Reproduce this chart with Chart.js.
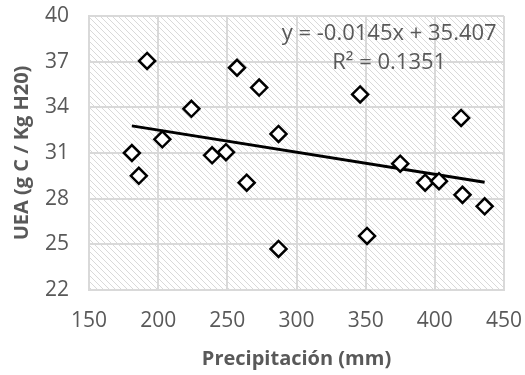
<!DOCTYPE html>
<html>
<head>
<meta charset="utf-8">
<script src="https://cdn.jsdelivr.net/npm/chart.js@4"></script>
<style>
  html, body { margin: 0; padding: 0; background: #fff; }
  #wrap { width: 525px; height: 375px; }
</style>
</head>
<body>
<div id="wrap"><canvas id="chart" width="525" height="375"></canvas></div>
<script>
  // precipitation (mm) vs UEA
  const precip = [181, 186, 192, 203, 224, 239, 249, 257, 264, 273, 287, 287, 346, 351, 375, 393, 403, 419, 420, 436];
  const uea = [31.0, 29.5, 37.05, 31.9, 33.9, 30.85, 31.05, 36.6, 29.05, 35.3, 32.25, 24.7, 34.85, 25.55, 30.3, 29.05, 29.15, 33.3, 28.25, 27.5];
  const trendX = [181, 436];
  const slope = -0.0145, intercept = 35.407;
  const xTicks = [150, 200, 250, 300, 350, 400, 450];
  const yTicks = [22, 25, 28, 31, 34, 37, 40];

  const grey = '#595959';
  const gridColor = '#d9d9d9';

  // hatched plot background
  function makeHatch() {
    const c = document.createElement('canvas');
    c.width = 6; c.height = 6;
    const g = c.getContext('2d');
    g.fillStyle = '#fff';
    g.fillRect(0, 0, 6, 6);
    g.strokeStyle = '#d9d9d9';
    g.lineWidth = 1;
    g.beginPath();
    g.moveTo(-1, -1); g.lineTo(7, 7);
    g.moveTo(-1, 5); g.lineTo(1, 7);
    g.moveTo(5, -1); g.lineTo(7, 1);
    g.stroke();
    return g.createPattern(c, 'repeat');
  }

  const hatchBg = {
    id: 'hatchBg',
    beforeDraw(chart) {
      const { ctx, chartArea: a } = chart;
      ctx.save();
      ctx.fillStyle = makeHatch();
      ctx.fillRect(a.left, a.top, a.right - a.left, a.bottom - a.top);
      ctx.restore();
    }
  };

  const equation = {
    id: 'equation',
    afterDraw(chart) {
      const { ctx } = chart;
      const xs = chart.scales.x, ys = chart.scales.y;
      ctx.save();
      ctx.fillStyle = grey;
      ctx.font = '22px "Open Sans"';
      ctx.textAlign = 'center';
      ctx.textBaseline = 'middle';
      ctx.fillText('y = -0.0145x + 35.407', xs.getPixelForValue(367), ys.getPixelForValue(38.82));
      ctx.fillText('R² = 0.1351', xs.getPixelForValue(367), ys.getPixelForValue(36.91));
      ctx.restore();
    }
  };

  new Chart(document.getElementById('chart'), {
    type: 'scatter',
    data: {
      datasets: [{
        label: 'UEA',
        data: precip.map((p, i) => ({ x: p, y: uea[i] })),
        pointStyle: 'rectRot',
        pointRadius: 8,
        pointBorderWidth: 2.5,
        pointBorderColor: '#000',
        pointBackgroundColor: '#fff',
        order: 1,
      }, {
        label: 'Tendencia',
        type: 'line',
        data: trendX.map(x => ({ x: x, y: slope * x + intercept })),
        borderColor: '#000',
        borderWidth: 3,
        pointRadius: 0,
        fill: false,
        order: 2,
      }],
    },
    options: {
      responsive: false,
      animation: false,
      layout: { padding: { top: 16, right: 21, left: 0, bottom: 0 } },
      plugins: { legend: { display: false }, tooltip: { enabled: false } },
      scales: {
        x: {
          type: 'linear',
          min: 150, max: 450,
          afterBuildTicks: s => { s.ticks = xTicks.map(v => ({ value: v })); },
          afterFit: s => { s.height = 85; s.paddingLeft = 0; s.paddingRight = 0; },
          grid: { color: gridColor, lineWidth: 2, drawTicks: false },
          border: { color: gridColor, width: 2 },
          ticks: { color: grey, font: { family: 'Open Sans', size: 21 }, padding: 18 },
          title: { display: true, text: 'Precipitación (mm)', color: grey, font: { family: 'Open Sans', size: 20, weight: 'bold' }, padding: { bottom: 4 } },
        },
        y: {
          min: 22, max: 40,
          afterBuildTicks: s => { s.ticks = yTicks.map(v => ({ value: v })); },
          afterFit: s => { s.width = 89; s.paddingTop = 0; s.paddingBottom = 0; },
          grid: { color: gridColor, lineWidth: 2, drawTicks: false },
          border: { color: gridColor, width: 2 },
          ticks: { color: grey, font: { family: 'Open Sans', size: 21 }, padding: 20 },
          title: { display: true, text: 'UEA (g C / Kg H20)', color: grey, font: { family: 'Open Sans', size: 20, weight: 'bold' }, padding: { top: 10 } },
        },
      },
    },
    plugins: [hatchBg, equation],
  });
</script>
</body>
</html>
